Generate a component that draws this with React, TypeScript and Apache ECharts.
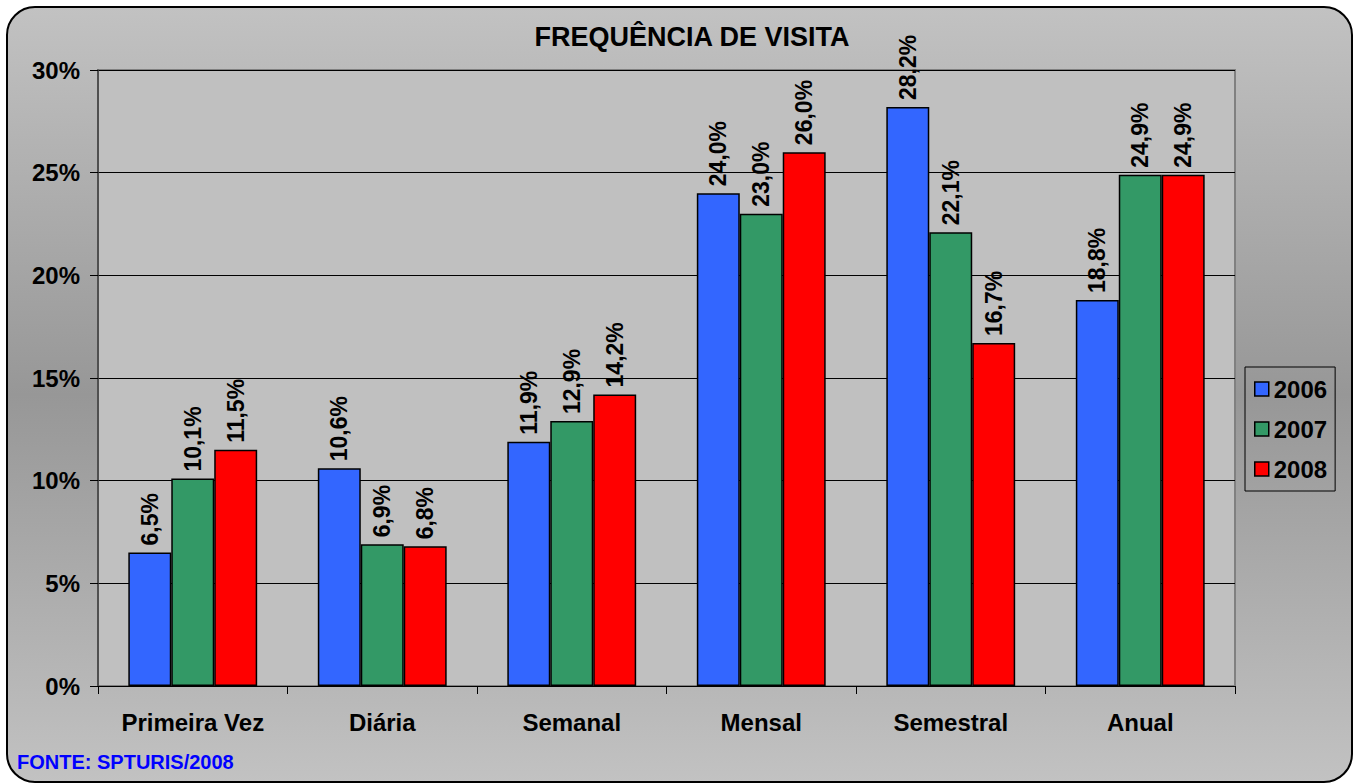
import React, { useEffect, useRef } from "react";
import * as echarts from "echarts";

const categories = ["Primeira Vez", "Diária", "Semanal", "Mensal", "Semestral", "Anual"];
const seriesNames = ["2006", "2007", "2008"];
const values2006 = [6.5, 10.6, 11.9, 24.0, 28.2, 18.8];
const values2007 = [10.1, 6.9, 12.9, 23.0, 22.1, 24.9];
const values2008 = [11.5, 6.8, 14.2, 26.0, 16.7, 24.9];
const seriesColors = ["#3366ff", "#339966", "#ff0000"];
const titleText = "FREQUÊNCIA DE VISITA";
const sourceText = "FONTE: SPTURIS/2008";

const FONT = "'Liberation Sans', Arial, sans-serif";

export default function App() {
  const ref = useRef<HTMLDivElement>(null);
  useEffect(() => {
    document.body.style.margin = "0";
    const chart = echarts.init(ref.current!, null, { renderer: "svg" });
    const allValues = [values2006, values2007, values2008];
    const option: any = {
      animation: false,
      backgroundColor: "#ffffff",
      title: {
        text: titleText,
        left: 687,
        textAlign: "center",
        top: 18,
        textStyle: { fontFamily: FONT, fontWeight: "bold", fontSize: 27, color: "#000" },
      },
      graphic: [
        {
          type: "rect",
          z: -100,
          zlevel: 0,
          shape: { x: 7, y: 7, width: 1345, height: 775, r: 28 },
          style: {
            fill: new echarts.graphic.LinearGradient(0, 0, 0, 1, [
              { offset: 0, color: "#c2c2c2" },
              { offset: 0.5, color: "#979797" },
              { offset: 1, color: "#c2c2c2" },
            ]),
            stroke: "#000",
            lineWidth: 2,
          },
        },
        {
          type: "text",
          left: 17,
          top: 752,
          style: {
            text: sourceText,
            fill: "#0000ff",
            font: `bold 20px ${FONT}`,
          },
        },
      ],
      legend: {
        orient: "vertical",
        left: 1245,
        top: 367,
        padding: [10, 8, 10, 9],
        itemGap: 16,
        itemWidth: 14,
        itemHeight: 14,
        itemTextGap: 9,
        borderColor: "#000",
        borderWidth: 1,
        icon: "rect",
        data: seriesNames,
        textStyle: { fontFamily: FONT, fontWeight: "bold", fontSize: 24, color: "#000" },
        itemStyle: { borderColor: "#000", borderWidth: 1.5 },
      },
      grid: {
        left: 98,
        right: 123,
        top: 70,
        bottom: 98,
        show: true,
        backgroundColor: "#c0c0c0",
        borderColor: "#808080",
        borderWidth: 2,
      },
      xAxis: {
        type: "category",
        data: categories,
        axisLine: { lineStyle: { color: "#000", width: 1 } },
        axisTick: { show: true, length: 8, lineStyle: { color: "#000" } },
        axisLabel: {
          fontFamily: FONT,
          fontWeight: "bold",
          fontSize: 24,
          color: "#000",
          margin: 24,
        },
      },
      yAxis: {
        type: "value",
        min: 0,
        max: 30,
        interval: 5,
        axisLine: { show: true, lineStyle: { color: "#404040", width: 1.5 } },
        axisTick: { show: true, length: 8, lineStyle: { color: "#000" } },
        axisLabel: {
          formatter: "{value}%",
          fontFamily: FONT,
          fontWeight: "bold",
          fontSize: 24,
          color: "#000",
          margin: 18,
        },
        splitLine: { show: true, lineStyle: { color: "#000", width: 1 } },
      },
      series: seriesNames.map((name, i) => ({
        name,
        type: "bar",
        data: allValues[i],
        barGap: "0%",
        barCategoryGap: "32%",
        itemStyle: { color: seriesColors[i], borderColor: "#000", borderWidth: 1.5 },
        label: {
          show: true,
          position: "top",
          rotate: 90,
          align: "left",
          verticalAlign: "middle",
          distance: 7,
          fontFamily: FONT,
          fontWeight: "bold",
          fontSize: 23,
          color: "#000",
          formatter: (p: any) => p.value.toFixed(1).replace(".", ",") + "%",
        },
      })),
    };
    chart.setOption(option);
    return () => chart.dispose();
  }, []);
  return <div ref={ref} style={{ width: 1358, height: 784 }} />;
}
